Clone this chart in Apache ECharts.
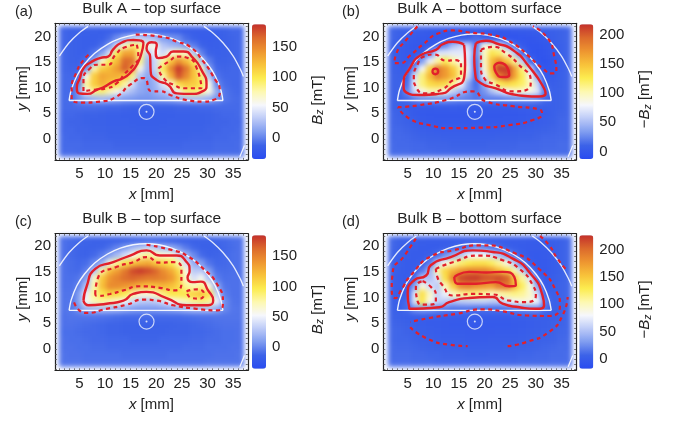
<!DOCTYPE html>
<html><head><meta charset="utf-8">
<style>html,body{margin:0;padding:0;background:#fff}#main{width:673px;height:424px}
#main canvas[data-zr-dom-id="zr_0"]{filter:blur(2.7px)}</style>
<script src="https://cdn.jsdelivr.net/npm/echarts@6/dist/echarts.min.js"></script>
</head><body><div id="main"></div><script>
const xCenters=[1.85,3.35,4.85,6.35,7.85,9.35,10.85,12.35,13.85,15.35,16.85,18.35,19.85,21.35,22.85,24.35,25.85,27.35,28.85,30.35,31.85,33.35,34.85,36.35];
const yCenters=[21.25,19.75,18.25,16.75,15.25,13.75,12.25,10.75,9.25,7.75,6.25,4.75,3.25,1.75,0.25,-1.25,-2.75];
const heatA=[
[-10,-12,-12,-13,-14,-15,-15,-15,-14,-12,-10,-9,-10,-12,-14,-15,-16,-16,-16,-15,-14,-12,-10,-10],
[-10,-12,-14,-15,-15,-14,-8,5,20,35,35,30,25,12,8,4,-8,-14,-17,-17,-15,-13,-11,-10],
[-10,-12,-14,-15,-14,-8,10,42,72,92,85,62,62,30,22,18,8,-2,-12,-16,-15,-13,-11,-10],
[-10,-12,-14,-14,-5,14,42,100,135,135,85,35,55,40,62,75,68,30,0,-12,-14,-13,-11,-10],
[-10,-12,-13,-8,15,70,100,125,165,160,85,22,40,80,120,145,125,95,30,-2,-12,-12,-11,-10],
[-10,-11,-11,5,75,115,125,140,170,140,60,20,40,100,150,185,160,120,70,12,-10,-11,-10,-10],
[-9,-10,-8,60,115,135,130,130,120,85,30,15,28,80,130,175,150,120,90,30,-6,-10,-10,-10],
[-9,-9,-2,80,115,130,120,105,80,40,18,12,22,45,70,105,118,115,100,60,3,-8,-10,-10],
[-9,-9,10,55,85,90,75,60,35,25,16,12,20,28,40,62,88,92,82,62,18,-5,-9,-10],
[-9,-8,5,15,22,25,22,18,12,10,8,8,10,12,15,20,25,28,25,20,8,-4,-8,-9],
[-9,-9,-8,-8,-8,-9,-10,-10,-11,-12,-12,-12,-12,-12,-12,-11,-11,-11,-10,-10,-9,-9,-9,-9],
[-10,-10,-11,-12,-12,-13,-14,-14,-15,-15,-15,-15,-15,-15,-15,-14,-14,-13,-13,-12,-11,-10,-10,-9],
[-10,-11,-11,-12,-13,-13,-14,-14,-14,-15,-15,-15,-15,-15,-14,-14,-14,-13,-13,-12,-11,-11,-10,-10],
[-10,-10,-11,-11,-12,-12,-13,-13,-13,-13,-14,-14,-14,-13,-13,-13,-13,-12,-12,-11,-11,-10,-10,-9],
[-9,-10,-10,-11,-11,-11,-12,-12,-12,-12,-12,-12,-12,-12,-12,-12,-12,-11,-11,-11,-10,-10,-9,-9],
[-9,-9,-9,-10,-10,-10,-10,-11,-11,-11,-11,-11,-11,-11,-11,-11,-10,-10,-10,-10,-9,-9,-9,-8],
[-8,-8,-9,-9,-9,-9,-9,-9,-9,-9,-9,-9,-9,-9,-9,-9,-9,-9,-9,-9,-8,-8,-8,-8]];
const heatB=[
[12,10,8,7,5,3,2,1,1,2,3,5,3,1,0,1,2,3,4,6,7,8,10,12],
[12,8,5,3,1,0,0,-1,0,3,6,15,6,0,-3,-4,-4,-3,-2,0,3,6,10,12],
[10,6,2,0,0,3,8,25,50,60,62,20,85,95,72,40,14,2,-4,-4,-1,3,8,12],
[10,5,2,1,5,25,70,70,72,72,72,25,95,130,120,90,55,15,-3,-5,-3,2,8,12],
[10,5,2,6,35,75,105,125,105,85,70,18,95,150,175,145,110,60,12,-4,-5,0,7,12],
[10,7,5,30,80,140,190,170,145,110,75,16,90,150,215,215,165,115,65,10,-3,0,7,12],
[11,9,10,65,115,155,185,170,150,110,65,14,75,135,185,205,165,125,85,35,2,3,8,12],
[11,10,15,75,115,135,140,135,110,78,35,14,40,90,125,135,130,120,100,62,10,6,9,12],
[11,10,25,65,85,100,100,85,60,45,30,18,30,50,65,80,90,90,85,70,20,8,10,12],
[11,10,14,22,28,30,32,32,28,25,22,18,22,22,22,25,28,28,28,25,14,8,10,12],
[11,9,5,3,3,3,4,4,5,4,4,3,3,3,3,3,4,5,5,5,6,8,10,12],
[12,10,6,3,1,0,0,0,0,0,0,0,0,0,0,0,0,1,2,3,4,8,11,12],
[12,11,9,6,3,2,1,1,1,1,1,1,1,1,1,2,2,3,4,5,7,9,12,13],
[13,12,11,9,7,6,5,5,5,5,5,5,5,5,5,6,6,7,8,9,10,11,12,13],
[13,13,12,11,10,9,9,8,8,8,8,8,8,8,9,9,9,10,10,11,12,12,13,13],
[14,13,13,12,12,11,11,11,10,10,10,10,10,11,11,11,11,12,12,12,13,13,14,14],
[14,14,14,13,13,13,12,12,12,12,12,12,12,12,12,12,13,13,13,13,14,14,14,14]];
const heatC=[
[-9,-11,-13,-14,-15,-15,-15,-15,-14,-13,-12,-11,-12,-13,-14,-15,-15,-16,-15,-15,-13,-12,-10,-9],
[-9,-12,-14,-15,-15,-14,-10,-2,8,20,28,35,30,22,15,5,-6,-13,-16,-16,-15,-13,-11,-9],
[-9,-12,-14,-15,-12,-5,8,22,38,55,72,80,70,62,60,38,18,0,-12,-15,-14,-12,-10,-9],
[-9,-11,-13,-11,0,18,60,80,100,115,125,130,115,108,98,75,40,15,8,-8,-13,-12,-10,-9],
[-9,-11,-12,-4,25,75,120,135,155,175,182,175,165,145,130,105,60,28,28,8,-10,-11,-10,-9],
[-9,-10,-8,10,65,115,140,150,160,165,160,155,155,150,140,115,65,40,55,25,-5,-10,-9,-9],
[-9,-9,-2,25,75,120,145,145,140,135,125,118,120,125,120,108,80,72,82,60,12,-8,-9,-9],
[-8,-8,8,48,80,100,112,105,95,78,62,62,70,85,98,98,100,110,118,100,35,-4,-9,-9],
[-8,-7,10,55,72,78,72,65,50,38,30,28,30,40,52,62,70,80,85,80,50,2,-8,-9],
[-8,-6,4,18,22,24,22,20,15,10,8,8,8,10,12,15,20,24,24,24,14,0,-7,-8],
[-9,-8,-8,-8,-8,-9,-10,-11,-12,-12,-12,-12,-12,-12,-12,-12,-11,-10,-9,-9,-8,-8,-8,-8],
[-9,-9,-10,-11,-12,-13,-14,-14,-15,-15,-16,-16,-16,-15,-15,-14,-14,-13,-12,-11,-10,-9,-9,-9],
[-10,-10,-11,-12,-12,-13,-14,-14,-15,-15,-15,-15,-15,-15,-14,-14,-14,-13,-13,-12,-11,-10,-10,-9],
[-9,-10,-10,-11,-12,-12,-13,-13,-13,-14,-14,-14,-14,-13,-13,-13,-13,-12,-12,-11,-11,-10,-10,-9],
[-9,-9,-10,-10,-11,-11,-12,-12,-12,-12,-12,-12,-12,-12,-12,-12,-11,-11,-11,-10,-10,-10,-9,-9],
[-8,-9,-9,-10,-10,-10,-10,-10,-11,-11,-11,-11,-11,-11,-10,-10,-10,-10,-10,-10,-9,-9,-9,-8],
[-8,-8,-8,-9,-9,-9,-9,-9,-9,-9,-9,-9,-9,-9,-9,-9,-9,-9,-9,-8,-8,-8,-8,-8]];
const heatD=[
[10,6,4,3,2,1,1,1,1,1,2,3,2,1,1,1,1,1,0,0,2,3,5,9],
[9,5,3,1,0,0,0,2,6,12,18,28,22,15,10,4,1,0,-1,-1,0,2,5,9],
[8,4,1,0,0,2,10,25,40,55,75,80,80,65,50,30,12,3,-2,-3,-1,2,5,9],
[7,3,0,0,3,18,60,85,105,120,130,135,135,125,110,88,55,18,1,-3,-2,1,5,9],
[6,2,0,1,15,45,105,140,160,175,185,185,185,175,155,135,105,62,15,-2,-3,1,5,9],
[5,1,0,10,50,50,70,135,185,215,220,222,212,210,215,205,150,110,68,10,-3,2,6,9],
[5,1,1,35,90,65,55,100,145,185,190,180,175,170,190,195,160,125,90,35,0,3,7,9],
[5,1,3,70,135,95,60,75,98,110,115,115,108,98,105,110,115,110,95,65,8,4,7,9],
[5,2,10,70,130,85,60,55,50,55,58,60,60,55,55,70,80,88,88,78,20,4,7,9],
[6,3,10,25,30,28,22,18,15,15,15,12,12,12,12,14,18,22,24,24,12,5,6,9],
[7,5,3,2,2,1,1,0,0,0,0,0,0,0,0,0,1,1,2,3,3,4,6,9],
[8,7,5,3,1,0,0,-1,-2,-2,-2,-3,-3,-2,-2,-2,-1,0,1,2,3,5,7,9],
[9,8,7,5,3,2,1,0,0,0,-1,-1,-1,-1,0,0,0,1,2,3,4,6,8,9],
[9,8,8,6,5,4,3,2,2,2,1,1,1,2,2,2,2,3,4,5,6,7,9,10],
[10,9,9,8,7,6,5,5,4,4,4,4,4,4,4,5,5,5,6,7,8,9,10,10],
[10,10,10,9,9,8,8,7,7,7,6,6,6,7,7,7,7,8,8,9,9,10,10,11],
[11,11,11,10,10,10,9,9,9,9,9,9,9,9,9,9,9,10,10,10,10,11,11,11]];

const solidA=[
[[17.5,18.7],[17.1,16.7],[16.2,14.5],[15.2,13.2],[13.6,11.9],[11.6,11.2],[9.7,10.1],[8.4,9.6],[6.6,8.8],[4.9,8.9],[4.5,10.1],[5.1,11.9],[5.8,13.8],[7.1,14.9],[9,15.8],[10.6,16.1],[11.6,17.5],[13.2,18.8],[15.5,19.35],[17.1,19.2],[17.5,18.7]],
[[18.4,18.7],[19.1,18.9],[20.1,18.4],[19.9,17.1],[20.4,15.8],[22,16.1],[23.3,17.1],[25.3,17.1],[27.2,15.8],[28.8,13.5],[29.8,10.6],[29.2,9.4],[26.6,8.8],[24,8.9],[22.3,10.6],[20.1,11.5],[18.9,13.2],[18.8,16.1],[18.1,17.7],[18.4,18.7]]];
const dashA=[
[[16.2,18.4],[16.5,16.1],[15.2,14.1],[13.9,12.8],[12.3,10.9],[10.3,9.9],[7.7,9.6],[5.8,9.3],[5.8,11.5],[7.1,13.8],[8.7,14.5],[10.6,14.5],[12,16.4],[13.9,17.9],[16.2,18.4]],
[[20.4,13.8],[22.4,15.1],[24.3,16.1],[26.2,15.8],[27.9,13.8],[28.8,9.9],[25.9,9.9],[23.3,10.6],[21.4,11.9],[20.4,13.8]],
[[16,20.4],[21.4,19.9],[24,19],[26.6,18],[29.2,15.1],[31.1,12.2],[32.4,9.3],[31.1,7.6],[29.2,7.3],[25.9,7.6],[22.7,8.6],[20.7,9.3],[19.1,9.3],[17.5,11.9],[14.9,10.6],[12.3,8.3],[9,7.3],[5.8,7.1],[3.5,7.9],[3.5,9.6],[4.5,13.2],[5.8,15.4],[7.1,16.7]]];
const solidB=[
[[16,18.4],[16.2,14.5],[16,11.9],[13.4,9.9],[11.8,8.9],[7.3,8.6],[4.7,9.1],[4.2,10.6],[5.6,14.1],[7.6,16.4],[10.5,17.4],[11.8,18.5],[13.8,19],[16,18.4]],
[[10.95,13.2],[10.8,13.6],[10.4,13.75],[10,13.6],[9.85,13.2],[10,12.8],[10.4,12.65],[10.8,12.8],[10.95,13.2]],
[[18.3,18.7],[20.3,19.2],[22.2,18.7],[25.5,17.4],[28.7,14.1],[31.6,9.9],[31.9,8.9],[30,8.3],[26.1,8.6],[22.2,9.9],[19.3,10.9],[18.2,12.5],[18,16.1],[18.3,18.7]],
[[22.9,14.9],[24.2,14.3],[24.8,12.5],[23.5,12.1],[22.2,13],[21.9,14.1],[22.9,14.9]]];
const dashB=[
[[15.4,14.8],[15.4,12.5],[13.4,11.2],[12.1,9.9],[8.6,8.9],[6.6,10.2],[6.2,11.9],[6.9,14.5],[8.2,16.1],[10.2,16.5],[12.5,15.3],[14.4,15.4],[15.4,14.8]],
[[19.3,17.4],[21.6,18],[24.2,16.7],[26.4,14.8],[29,11.2],[28.7,9.9],[25.5,9.3],[22.2,10.6],[19.9,11.9],[19.3,14.1],[19.3,17.4]],
[[6.9,22],[5,19.7],[2.7,16.4],[2.4,14.8],[3.4,14.8],[5.6,16.4],[7.9,18.4],[11.2,20.7],[13.8,21.2],[17,20.8],[21.6,20.3],[25.5,18.7],[28.7,16.1],[31.3,13.8],[33.2,12.8],[34,13.2],[33.6,16.1],[32.3,19.7],[29.4,22]],
[[3.1,6.2],[7.3,6.6],[12.5,7.6],[17.7,9.3],[20.3,7.3],[25.5,6.4],[30.6,5.8],[31.2,5],[29.4,3.7],[24.8,2.7],[19,2.2],[13.8,2.1],[9.2,2.7],[5.3,4],[3.1,6.2]]];
const solidC=[
[[5.8,9.4],[6.4,12.1],[8.1,15.6],[11.6,16.9],[14.9,18.2],[18.1,19.2],[20.7,18.2],[24,18.2],[25.7,17.2],[26.5,15.2],[26.1,13.9],[27.1,13],[28.7,13.1],[30.1,11.4],[31.1,9.4],[30.1,8.5],[25.9,8.5],[22,9.9],[18.1,11.1],[15.5,10.7],[13.6,9.4],[10.3,8.8],[6.8,8.5],[5.8,9.4]]];
const dashC=[
[[8.1,10.7],[8.7,14],[12.3,16],[15.5,16.9],[18.1,17.9],[20.7,16.8],[23.3,16.9],[24.9,15.6],[24.9,12.7],[23.6,11.4],[20.7,11.9],[16.8,12.2],[13.6,11.4],[11,10.7],[8.4,10.3],[8.1,10.7]],
[[25.9,11.2],[27.9,11.6],[29.3,10.7],[28.5,9.8],[26.9,9.9],[25.9,11.2]],
[[18.1,20.3],[23.3,19.2],[25.9,18.2],[29.2,15.6],[31.8,12.7],[33,9.1],[32,7.5],[27.9,7.8],[23.3,8.5],[20.1,9.4],[17.5,9.6],[14.2,8.6],[10.3,7.8],[6.4,7],[5,7.5],[3.8,9.6]]];
const solidD=[
[[5.3,8.1],[5,10.7],[6.3,13.4],[8.6,14.3],[9.5,16.3],[13.4,17.9],[17.7,19.2],[21.6,18.9],[25.5,17.6],[28.7,15],[31.3,10.4],[31.6,8.5],[30,7.8],[26.8,8.1],[23.5,8.8],[21.6,10.1],[17,9.9],[13.1,9.1],[11.2,8.1],[5.3,7.8],[5.3,8.1]],
[[14.1,14],[17,15],[20.3,14.9],[23.5,15],[25.8,14],[26.1,12.4],[24.8,12.2],[22.2,13],[18.3,12.7],[14.7,12.7],[14.1,14]]];
const dashD=[
[[10.5,15.6],[13.8,16.9],[19,18.2],[23.5,17.3],[26.8,15.6],[29.4,12.4],[30,10.4],[28,9.1],[24.8,9.4],[21.6,10.6],[17.7,10.7],[13.8,10.4],[11.8,12.4],[10.8,14],[10.5,15.6]],
[[7.9,13.2],[9.5,12.1],[10.5,10.4],[10.5,9],[8.2,8.6],[6.9,9.4],[6.6,12.1],[7.9,13.2]],
[[6.6,21.5],[4.4,18.2],[2.1,15],[1.9,11.4],[2.6,9.9],[3.7,11.4],[5.6,14.3],[9.9,18.2],[13.8,19.2],[19,20.2],[26.1,18.6],[30.6,15.6],[33.9,11.4],[34.7,8.5],[32.6,6.4],[28.1,6.5],[23.5,7.3],[19.6,7.7],[14.4,6.8],[9.2,6],[5.5,5.2]],
[[5.5,4.2],[8.6,2.1],[13.1,0.8],[16.7,0.5]],
[[24.5,0.5],[28.1,1.3],[32.6,3.3],[35.2,6.5],[36.2,10.1]],
[[30.8,22],[32.6,20.2],[34.2,17.6],[35.8,15.6]]];
const domeArc=[[3,7.5],[3.4,9.5],[4.5,12.3],[6,14.6],[8,16.75],[10.5,18.5],[13,19.65],[15.5,20.3],[18,20.5],[20.5,20.3],[23,19.65],[25.5,18.5],[28,16.75],[30,14.6],[31.5,12.3],[32.6,9.5],[33,7.5]];
const domeBase=[[3,7.5],[33,7.5]];
const outerArcs=[[[1.1,16.2],[3,18.8],[5,20.76],[6.7,22]],[[29.3,22],[31,20.76],[33,18.8],[35,16.2],[36.5,13.4],[37,12.2]],[[36.3,-3.5],[37.2,-1.3]]];
const centerMark=[[18.1,5.3]];
const xLabels=[5,10,15,20,25,30,35];
const yLabels=[0,5,10,15,20];
const xMinor=[1,2,3,4,5,6,7,8,9,10,11,12,13,14,15,16,17,18,19,20,21,22,23,24,25,26,27,28,29,30,31,32,33,34,35,36,37];
const yMinor=[-4,-3,-2,-1,0,1,2,3,4,5,6,7,8,9,10,11,12,13,14,15,16,17,18,19,20,21,22];
const titles=["Bulk A – top surface","Bulk A – bottom surface","Bulk B – top surface","Bulk B – bottom surface"];
const letters=["(a)","(b)","(c)","(d)"];
const barNames=["{i|B}{s|z} [mT]","−{i|B}{s|z} [mT]","{i|B}{s|z} [mT]","−{i|B}{s|z} [mT]"];
const barTicksTop=[0,50,100,150];
const barTicksBottom=[0,50,100,150,200];
const ramp=['#2a4cf0','#3c62e8','#7f9cf0','#bccaf7','#f6f7fc','#fdf8b0','#fcec50','#f8c23a','#ee9530','#dc6a2c','#c4302b'];

const FONT='Liberation Sans';
const panels=[
 {heat:heatA,solid:solidA,dash:dashA,left:55,top:23.3,ymin:-4.1,ymax:22.6,vmin:-34,vmax:187,ticks:barTicksTop,barX:252,barY:24.3,barH:134.7,tx:151.7,ty:1,lx:15,ly:4,pad:17},
 {heat:heatB,solid:solidB,dash:dashB,left:383.3,top:23.3,ymin:-4.1,ymax:22.6,vmin:-13,vmax:218,ticks:barTicksBottom,barX:579.3,barY:24.3,barH:134.7,tx:479.5,ty:1,lx:342,ly:4,pad:15},
 {heat:heatC,solid:solidC,dash:dashC,left:55,top:233.7,ymin:-4.2,ymax:22.46,vmin:-37,vmax:185,ticks:barTicksTop,barX:252,barY:235.3,barH:133.4,tx:151.7,ty:211,lx:15,ly:214,pad:15},
 {heat:heatD,solid:solidD,dash:dashD,left:383.3,top:233.7,ymin:-4.2,ymax:22.46,vmin:-18,vmax:226,ticks:barTicksBottom,barX:579.3,barY:235.3,barH:133.4,tx:479.5,ty:211,lx:342,ly:214,pad:15}];

const grid=[],xAxis=[],yAxis=[],series=[],visualMap=[],title=[];
const txt={color:'#222',fontFamily:FONT,fontSize:15};
const rich={i:{fontStyle:'italic',fontFamily:FONT,fontSize:15,color:'#222'},s:{fontStyle:'italic',fontFamily:FONT,fontSize:10.5,color:'#222',verticalAlign:'bottom',padding:[6,0,0,0]}};
function renderCell(params,api){
  const a=api.coord([api.value(0)-0.75,api.value(1)+0.75]);
  const b=api.coord([api.value(0)+0.75,api.value(1)-0.75]);
  const x0=Math.round(a[0]),y0=Math.round(a[1]),x1=Math.round(b[0]),y1=Math.round(b[1]);
  return {type:'rect',shape:{x:x0,y:y0,width:x1-x0,height:y1-y0},style:{fill:api.visual('color')}};
}
panels.forEach((p,k)=>{
  title.push({text:titles[k],left:p.tx,top:p.ty,textAlign:'center',zlevel:1,padding:0,textStyle:{fontFamily:FONT,fontSize:15.5,fontWeight:'normal',color:'#222'}});
  title.push({text:letters[k],left:p.lx,top:p.ly,zlevel:1,padding:0,textStyle:{fontFamily:FONT,fontSize:14.5,fontWeight:'normal',color:'#222'}});
  const g=grid.length;
  grid.push({left:p.left,top:p.top,width:192.8,height:136.6,zlevel:1});
  const ix=xAxis.length, iy=yAxis.length;
  const frame={lineStyle:{color:'#222',width:1.2}};
  xAxis.push({type:'value',gridIndex:g,position:'bottom',min:0.25,max:37.85,zlevel:1,splitLine:{show:false},axisLine:{show:true,onZero:false,...frame},
    axisTick:{show:true,inside:true,length:2,lineStyle:{color:'#555',width:.8},customValues:xMinor},
    axisLabel:{...txt,margin:6,customValues:xLabels},
    name:'{i|x} [mm]',nameLocation:'middle',nameGap:27,nameTextStyle:{...txt,rich}});
  xAxis.push({type:'value',gridIndex:g,position:'top',min:0.25,max:37.85,zlevel:1,splitLine:{show:false},axisLine:{show:true,onZero:false,...frame},
    axisTick:{show:true,inside:true,length:2,lineStyle:{color:'#555',width:.8},customValues:xMinor},axisLabel:{show:false}});
  yAxis.push({type:'value',gridIndex:g,position:'left',min:p.ymin,max:p.ymax,zlevel:1,splitLine:{show:false},axisLine:{show:true,onZero:false,...frame},
    axisTick:{show:true,inside:true,length:2,lineStyle:{color:'#555',width:.8},customValues:yMinor},
    axisLabel:{...txt,margin:4,customValues:yLabels},
    name:'{i|y} [mm]',nameLocation:'middle',nameGap:25,nameRotate:90,nameTextStyle:{...txt,rich,padding:[0,0,0,6]}});
  yAxis.push({type:'value',gridIndex:g,position:'right',min:p.ymin,max:p.ymax,zlevel:1,splitLine:{show:false},axisLine:{show:true,onZero:false,...frame},
    axisTick:{show:true,inside:true,length:2,lineStyle:{color:'#555',width:.8},customValues:yMinor},axisLabel:{show:false}});
  const cells=[];
  p.heat.forEach((row,r)=>row.forEach((v,c)=>cells.push([xCenters[c],yCenters[r],v])));
  const si=series.length;
  series.push({type:'custom',xAxisIndex:ix,yAxisIndex:iy,coordinateSystem:'cartesian2d',renderItem:renderCell,data:cells,encode:{x:0,y:1},zlevel:0,silent:true,clip:false,animation:false});
  visualMap.push({type:'continuous',seriesIndex:si,dimension:2,min:p.vmin,max:p.vmax,left:p.barX,top:p.barY,itemWidth:14,itemHeight:p.barH,padding:0,calculable:false,text:null,showLabel:false,hoverLink:false,zlevel:1,inRange:{color:ramp}});
  const line=(d,extra)=>series.push({type:'line',xAxisIndex:ix,yAxisIndex:iy,data:d,showSymbol:false,symbol:'none',zlevel:1,silent:true,animation:false,...extra});
  outerArcs.forEach(a=>line(a,{smooth:0.3,lineStyle:{color:'rgba(255,255,255,.85)',width:1.3}}));
  line(domeArc,{smooth:0.3,lineStyle:{color:'rgba(255,255,255,.9)',width:1.4}});
  line(domeBase,{lineStyle:{color:'rgba(255,255,255,.9)',width:1.4}});
  p.solid.forEach(a=>line(a,{smooth:0.6,lineStyle:{color:'#e2202b',width:2.4}}));
  p.dash.forEach(a=>line(a,{smooth:0.6,lineStyle:{color:'#e2202b',width:2.2,type:[4,3.5]}}));
  series.push({type:'scatter',xAxisIndex:ix,yAxisIndex:iy,data:centerMark,symbolSize:15,zlevel:1,silent:true,animation:false,itemStyle:{color:'rgba(0,0,0,0)',borderColor:'rgba(255,255,255,.9)',borderWidth:1.2}});
  series.push({type:'scatter',xAxisIndex:ix,yAxisIndex:iy,data:centerMark,symbolSize:2,zlevel:1,silent:true,animation:false,itemStyle:{color:'#fff'}});
  const gb=grid.length;
  grid.push({left:p.barX,top:p.barY,width:14,height:p.barH,zlevel:1});
  xAxis.push({type:'value',gridIndex:gb,min:0,max:1,show:false,zlevel:1});
  yAxis.push({type:'value',gridIndex:gb,position:'right',min:p.vmin,max:p.vmax,zlevel:1,splitLine:{show:false},axisLine:{show:false},
    axisTick:{show:true,inside:false,length:2,lineStyle:{color:'#bbb',width:.8},customValues:p.ticks},
    axisLabel:{...txt,margin:6,customValues:p.ticks},
    name:barNames[k],nameLocation:'middle',nameGap:43,nameRotate:90,nameTextStyle:{...txt,rich,padding:[0,p.pad,0,0]}});
});
const chart=echarts.init(document.getElementById('main'),null,{renderer:'canvas'});
chart.setOption({animation:false,backgroundColor:'#fff',tooltip:{show:false},title,grid,xAxis,yAxis,visualMap,series});
</script></body></html>
